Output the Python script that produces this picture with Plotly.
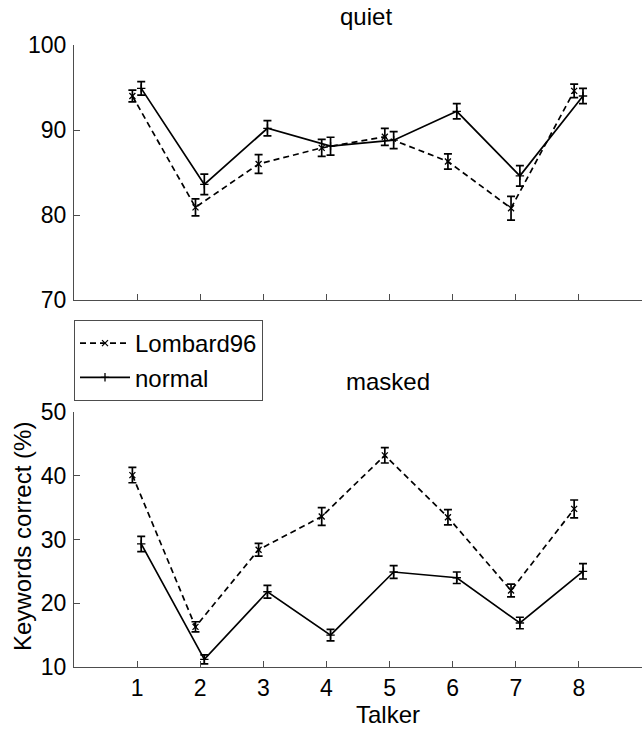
import plotly.graph_objects as go

W, H = 642, 730

talkers = [1, 2, 3, 4, 5, 6, 7, 8]
tick_labels = ["1", "2", "3", "4", "5", "6", "7", "8"]

quiet_lombard = [94.0, 80.9, 86.0, 87.9, 89.2, 86.3, 80.8, 94.6]
quiet_lombard_err = [0.7, 1.0, 1.1, 1.0, 1.0, 0.9, 1.4, 0.8]
quiet_normal = [94.9, 83.6, 90.2, 88.1, 88.8, 92.2, 84.6, 94.0]
quiet_normal_err = [0.8, 1.2, 0.9, 1.05, 1.0, 0.9, 1.2, 0.9]

masked_lombard = [40.1, 16.3, 28.4, 33.6, 43.2, 33.5, 22.0, 34.8]
masked_lombard_err = [1.2, 0.8, 1.0, 1.4, 1.2, 1.2, 1.0, 1.4]
masked_normal = [29.3, 11.2, 21.8, 15.0, 24.9, 24.0, 16.9, 25.0]
masked_normal_err = [1.2, 0.7, 1.0, 0.9, 1.0, 0.9, 0.9, 1.2]

series_names = ["Lombard96", "normal"]
offset_lombard = -0.075
offset_normal = 0.065

FONT = "Liberation Sans, Arial, sans-serif"
FS = 24
AXC = "#4d4d4d"


def px_x(p):
    return p / W


def px_y(p):
    return 1 - p / H


fig = go.Figure()


def add_series(vals, errs, off, name, dash, symbol, xa, ya, show, grp):
    fig.add_trace(go.Scatter(
        x=[t + off for t in talkers], y=vals,
        mode="lines+markers", name=name, showlegend=show, legendgroup=grp,
        line=dict(color="black", width=1.7, dash=dash),
        marker=dict(symbol=symbol, size=6, color="black",
                    line=dict(color="black", width=1.3)),
        error_y=dict(type="data", array=errs, visible=True,
                     color="black", thickness=1.7, width=4),
        xaxis=xa, yaxis=ya,
    ))


add_series(quiet_lombard, quiet_lombard_err, offset_lombard, series_names[0],
           "6px,4px", "x-thin", "x", "y", True, "a")
add_series(quiet_normal, quiet_normal_err, offset_normal, series_names[1],
           "solid", "cross-thin", "x", "y", True, "b")
add_series(masked_lombard, masked_lombard_err, offset_lombard, series_names[0],
           "6px,4px", "x-thin", "x2", "y2", False, "a")
add_series(masked_normal, masked_normal_err, offset_normal, series_names[1],
           "solid", "cross-thin", "x2", "y2", False, "b")

xdom = [px_x(74), 1.0]
top_dom = [px_y(300), px_y(45)]
bot_dom = [px_y(667), px_y(412)]

tfont = dict(family=FONT, size=FS - 1, color="black")
common_x = dict(range=[0, 9], tickvals=talkers, ticktext=tick_labels,
                showline=True, linecolor=AXC, linewidth=1, mirror=False,
                ticks="inside", ticklen=6, tickcolor=AXC, tickwidth=1,
                showgrid=False, zeroline=False, domain=xdom,
                tickfont=tfont, automargin=False)
common_y = dict(showline=True, linecolor=AXC, linewidth=1,
                ticks="inside", ticklen=6, tickcolor=AXC, tickwidth=1,
                showgrid=False, zeroline=False,
                tickfont=tfont, automargin=False, ticklabelstandoff=2)

txt = dict(family=FONT, size=FS, color="black")

fig.update_layout(
    width=W, height=H,
    margin=dict(l=0, r=0, t=0, b=0),
    paper_bgcolor="white", plot_bgcolor="white",
    font=txt,
    xaxis=dict(**common_x, anchor="y", showticklabels=False),
    yaxis=dict(**common_y, domain=top_dom, range=[70, 100],
               tickvals=[70, 80, 90, 100], anchor="x"),
    xaxis2=dict(**common_x, anchor="y2", showticklabels=True),
    yaxis2=dict(**common_y, domain=bot_dom, range=[10, 50],
                tickvals=[10, 20, 30, 40, 50], anchor="x2"),
    legend=dict(x=px_x(74), y=px_y(320), xanchor="left", yanchor="top",
                bordercolor=AXC, borderwidth=1, bgcolor="white",
                font=txt, tracegroupgap=0, itemwidth=50,
                entrywidth=175, entrywidthmode="pixels"),
    showlegend=True,
    annotations=[
        dict(text="quiet", x=px_x(366), y=px_y(16), xref="paper", yref="paper",
             xanchor="center", yanchor="middle", showarrow=False, font=txt),
        dict(text="masked", x=px_x(388), y=px_y(382), xref="paper", yref="paper",
             xanchor="center", yanchor="middle", showarrow=False, font=txt),
        dict(text="Talker", x=px_x(388), y=px_y(714), xref="paper", yref="paper",
             xanchor="center", yanchor="middle", showarrow=False, font=txt),
        dict(text="Keywords correct (%)", x=px_x(22), y=px_y(537),
             xref="paper", yref="paper", textangle=-90,
             xanchor="center", yanchor="middle", showarrow=False, font=txt),
    ],
)

fig.write_html("out.html", config={"displayModeBar": False},
               post_script="document.body.style.margin='0';")
